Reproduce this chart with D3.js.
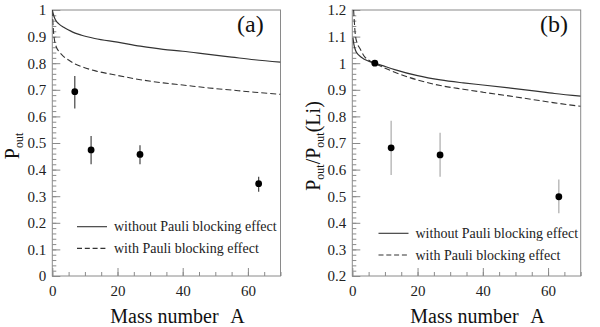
<!DOCTYPE html>
<html>
<head>
<meta charset="utf-8">
<script src="https://cdn.jsdelivr.net/npm/d3@7"></script>
<style>
  body { margin: 0; background: #fff; }
  svg { display: block; font-family: "Liberation Serif", "Times New Roman", serif; }
</style>
</head>
<body>
<div id="container"></div>
<script>
// --- data ---
// panel (a): P_out vs mass number
const massA = [0, 0.3, 0.7, 1.2, 2, 3.5, 5, 7, 9, 13, 20, 27, 34, 40, 48, 55, 62, 70];
const noPauliA = [1.0, 0.985, 0.97, 0.958, 0.948, 0.935, 0.925, 0.913, 0.905, 0.893, 0.879, 0.864, 0.852, 0.845, 0.833, 0.823, 0.813, 0.804];
const pauliA = [1.0, 0.93, 0.885, 0.862, 0.845, 0.825, 0.812, 0.797, 0.787, 0.772, 0.754, 0.738, 0.726, 0.718, 0.707, 0.699, 0.691, 0.683];

// panel (b): P_out / P_out(Li)
const massNoPauliB = [0.2, 0.5, 1.0, 2, 3.5, 5, 7, 9, 13, 20, 27, 34, 40, 48, 55, 62, 70];
const noPauliB = [1.095, 1.07, 1.048, 1.03, 1.016, 1.008, 1.0, 0.992, 0.976, 0.953, 0.937, 0.926, 0.918, 0.907, 0.897, 0.886, 0.876];
const massPauliB = [0.4, 0.6, 0.9, 1.5, 2.3, 3.8, 5.2, 7, 9, 13, 20, 27, 34, 40, 48, 55, 62, 70];
const pauliB = [1.2, 1.16, 1.11, 1.075, 1.056, 1.024, 1.01, 0.998, 0.987, 0.966, 0.937, 0.916, 0.902, 0.891, 0.877, 0.864, 0.851, 0.838];

// measured points
const dataMass = [6.9, 11.9, 26.9, 63.3];
const dataA = [0.693, 0.474, 0.457, 0.347];
const dataAlo = [0.630, 0.420, 0.420, 0.317];
const dataAhi = [0.752, 0.526, 0.492, 0.373];
const dataB = [1.0, 0.682, 0.655, 0.498];
const dataBlo = [1.0, 0.580, 0.573, 0.436];
const dataBhi = [1.0, 0.784, 0.739, 0.563];

const xTicks = [0, 20, 40, 60];
const yTicksA = [0, 0.1, 0.2, 0.3, 0.4, 0.5, 0.6, 0.7, 0.8, 0.9, 1];
const yTicksB = [0.2, 0.3, 0.4, 0.5, 0.6, 0.7, 0.8, 0.9, 1, 1.1, 1.2];
const legendLabels = ['without Pauli blocking effect', 'with Pauli blocking effect'];

const width = 600, height = 327;
const frameColor = '#8a8a8a';
const lineColor = '#333';

const svg = d3.select('#container').append('svg')
  .attr('width', width).attr('height', height);

function drawPanel(opts) {
  const x = d3.scaleLinear().domain([0, 70]).range([opts.left, opts.right]);
  const y = d3.scaleLinear().domain(opts.yDomain).range([276, 10]);
  const g = svg.append('g');

  // frame
  g.append('rect')
    .attr('x', opts.left).attr('y', 10)
    .attr('width', opts.right - opts.left).attr('height', 266)
    .attr('fill', 'none').attr('stroke', frameColor).attr('stroke-width', 1);

  // minor ticks
  const yMinor = d3.range(0, Math.round((opts.yDomain[1] - opts.yDomain[0]) / 0.02) + 1)
    .map((i) => opts.yDomain[0] + i * 0.02);
  const xMinor = d3.range(0, 15).map((i) => i * 5);

  g.append('g').attr('transform', `translate(${opts.left},0)`)
    .call(d3.axisLeft(y).tickValues(yMinor).tickSize(-4).tickFormat(''))
    .call((s) => s.select('.domain').remove())
    .call((s) => s.selectAll('line').attr('stroke', frameColor));
  g.append('g').attr('transform', 'translate(0,276)')
    .call(d3.axisBottom(x).tickValues(xMinor).tickSize(-4).tickFormat(''))
    .call((s) => s.select('.domain').remove())
    .call((s) => s.selectAll('line').attr('stroke', frameColor));

  // major ticks + labels
  g.append('g').attr('transform', `translate(${opts.left},0)`)
    .call(d3.axisLeft(y).tickValues(opts.yTicks).tickSize(-8).tickPadding(6).tickFormat((d) => String(+d.toFixed(1))))
    .call((s) => s.select('.domain').remove())
    .call((s) => s.selectAll('line').attr('stroke', frameColor))
    .call((s) => s.selectAll('text').attr('font-size', 15).attr('fill', '#222')
      .attr('font-family', '"Liberation Serif", serif'));
  g.append('g').attr('transform', 'translate(0,276)')
    .call(d3.axisBottom(x).tickValues(xTicks).tickSize(-8).tickPadding(6))
    .call((s) => s.select('.domain').remove())
    .call((s) => s.selectAll('line').attr('stroke', frameColor))
    .call((s) => s.selectAll('text').attr('font-size', 15).attr('fill', '#222')
      .attr('font-family', '"Liberation Serif", serif').attr('dy', '0.9em'));

  // curves
  const line = d3.line().x((d) => x(d[0])).y((d) => y(d[1])).curve(d3.curveMonotoneX);
  const clipId = 'clip-' + opts.name;
  svg.append('clipPath').attr('id', clipId).append('rect')
    .attr('x', opts.left).attr('y', 10).attr('width', opts.right - opts.left).attr('height', 266);

  g.append('path')
    .datum(d3.zip(opts.solidX, opts.solidY))
    .attr('d', line).attr('fill', 'none')
    .attr('stroke', lineColor).attr('stroke-width', 1.2)
    .attr('clip-path', `url(#${clipId})`);
  g.append('path')
    .datum(d3.zip(opts.dashX, opts.dashY))
    .attr('d', line).attr('fill', 'none')
    .attr('stroke', lineColor).attr('stroke-width', 1.1)
    .attr('stroke-dasharray', '6,3')
    .attr('clip-path', `url(#${clipId})`);

  // data points with error bars
  const pts = dataMass.map((m, i) => ({ m, v: opts.vals[i], lo: opts.lo[i], hi: opts.hi[i] }));
  g.selectAll('.err').data(pts).join('line')
    .attr('x1', (d) => x(d.m)).attr('x2', (d) => x(d.m))
    .attr('y1', (d) => y(d.lo)).attr('y2', (d) => y(d.hi))
    .attr('stroke', opts.errColor).attr('stroke-width', 1.2);
  g.selectAll('.pt').data(pts).join('circle')
    .attr('cx', (d) => x(d.m)).attr('cy', (d) => y(d.v)).attr('r', 3.4)
    .attr('fill', '#000');

  // legend
  const lg = g.append('g');
  legendLabels.forEach((label, i) => {
    const ly = opts.legendY + i * 21.7;
    lg.append('line')
      .attr('x1', opts.legendX).attr('x2', opts.legendX + 30)
      .attr('y1', ly).attr('y2', ly)
      .attr('stroke', lineColor).attr('stroke-width', 1.1)
      .attr('stroke-dasharray', i === 1 ? '5,2.8' : null);
    lg.append('text')
      .attr('x', opts.legendX + 37).attr('y', ly + 4.5)
      .attr('font-size', 14).attr('fill', '#222')
      .text(label);
  });

  // panel tag
  g.append('text')
    .attr('x', opts.tagX).attr('y', 32)
    .attr('font-size', 24).attr('fill', '#111')
    .text(opts.tag);

  // x title
  const xt = g.append('text').attr('y', 323).attr('font-size', 20).attr('fill', '#111');
  xt.append('tspan').attr('x', opts.left + 58).text('Mass number');
  xt.append('tspan').attr('x', opts.left + 178).text('A');

  // y title
  const yt = g.append('text')
    .attr('transform', `translate(${opts.yTitleX},${opts.yTitleY}) rotate(-90)`)
    .attr('text-anchor', 'middle').attr('font-size', 20).attr('fill', '#111');
  opts.yTitle.forEach((part) => {
    const t = yt.append('tspan').text(part.t);
    if (part.sub) t.attr('font-size', 12).attr('dy', 4);
    else if (part.up) t.attr('dy', -4);
  });
}

drawPanel({
  name: 'a', tag: '(a)', tagX: 237,
  left: 52.3, right: 280.5, yDomain: [0, 1], yTicks: yTicksA,
  solidX: massA, solidY: noPauliA, dashX: massA, dashY: pauliA,
  vals: dataA, lo: dataAlo, hi: dataAhi, errColor: '#444',
  legendX: 77, legendY: 226.7,
  yTitleX: 18.5, yTitleY: 146,
  yTitle: [{ t: 'P' }, { t: 'out', sub: true }],
});

drawPanel({
  name: 'b', tag: '(b)', tagX: 540,
  left: 352.3, right: 580.7, yDomain: [0.2, 1.2], yTicks: yTicksB,
  solidX: massNoPauliB, solidY: noPauliB, dashX: massPauliB, dashY: pauliB,
  vals: dataB, lo: dataBlo, hi: dataBhi, errColor: '#aaa',
  legendX: 378.5, legendY: 233.3,
  yTitleX: 320, yTitleY: 146,
  yTitle: [{ t: 'P' }, { t: 'out', sub: true }, { t: '/P', up: true }, { t: 'out', sub: true }, { t: '(Li)', up: true }],
});
</script>
</body>
</html>
